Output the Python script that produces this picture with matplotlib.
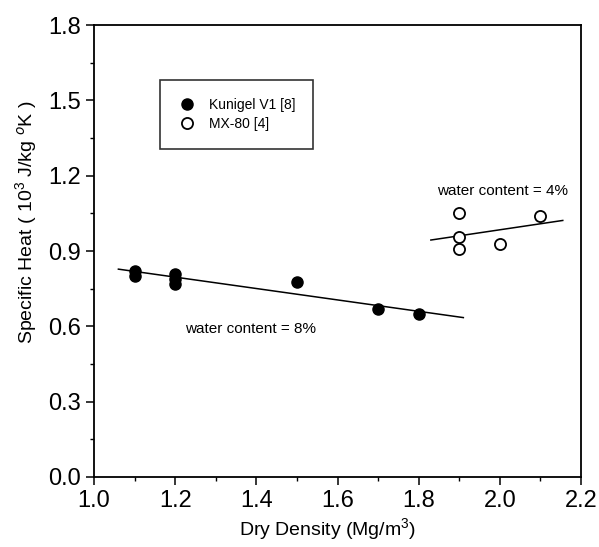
import numpy as np
import matplotlib
matplotlib.use("Agg")
import matplotlib.pyplot as plt
from matplotlib.ticker import MultipleLocator

plt.rcParams['font.family'] = ['Liberation Sans', 'DejaVu Sans']
plt.rcParams['mathtext.fontset'] = 'custom'
plt.rcParams['mathtext.rm'] = 'Liberation Sans'

# Kunigel V1 [8]
kun_x = [1.1, 1.1, 1.2, 1.2, 1.2, 1.5, 1.7, 1.8]
kun_y = [0.82, 0.80, 0.81, 0.79, 0.77, 0.775, 0.67, 0.65]
# MX-80 [4]
mx_x = [1.9, 1.9, 1.9, 2.0, 2.1]
mx_y = [1.05, 0.955, 0.91, 0.93, 1.04]

# fitted lines (end points)
kun_fit_x = [1.06, 1.91]
kun_fit_y = [0.828, 0.635]
mx_fit_x = [1.83, 2.155]
mx_fit_y = [0.944, 1.022]

fig = plt.figure(figsize=(5.99, 5.47), dpi=100)
ax = fig.add_axes([0.157, 0.128, 0.813, 0.826])

ax.plot(kun_fit_x, kun_fit_y, color='black', linewidth=1.1)
ax.plot(mx_fit_x, mx_fit_y, color='black', linewidth=1.1)
ax.plot(kun_x, kun_y, 'o', color='black', markersize=8, label='Kunigel V1 [8]')
ax.plot(mx_x, mx_y, 'o', markerfacecolor='white', markeredgecolor='black',
        markeredgewidth=1.3, markersize=8, label='MX-80 [4]')

ax.text(1.225, 0.59, 'water content = 8%', fontsize=11, va='center')
ax.text(1.845, 1.14, 'water content = 4%', fontsize=11, va='center')

ax.set_xlim(1.0, 2.2)
ax.set_ylim(0.0, 1.8)
ax.xaxis.set_major_locator(MultipleLocator(0.2))
ax.xaxis.set_minor_locator(MultipleLocator(0.1))
ax.yaxis.set_major_locator(MultipleLocator(0.3))
ax.yaxis.set_minor_locator(MultipleLocator(0.15))
ax.xaxis.set_major_formatter(matplotlib.ticker.FormatStrFormatter('%.1f'))
ax.yaxis.set_major_formatter(matplotlib.ticker.FormatStrFormatter('%.1f'))
ax.tick_params(which='major', direction='out', length=6, width=1.1, labelsize=17)
ax.tick_params(which='minor', direction='out', length=3, width=1.0)
ax.tick_params(top=False, right=False, which='both')
for s in ax.spines.values():
    s.set_linewidth(1.3)

ax.set_xlabel('Dry Density (Mg/m$^3$)', fontsize=14)
ax.set_ylabel('Specific Heat ( 10$^3$ J/kg $^o$K )', fontsize=14)
ax.xaxis.set_label_coords(0.48, -0.087)
ax.yaxis.set_label_coords(-0.112, 0.564)

leg = ax.legend(loc='upper left', bbox_to_anchor=(0.1355, 0.878), fontsize=10,
                frameon=True, fancybox=False, edgecolor='black', borderpad=1.3,
                handletextpad=0.9, labelspacing=0.3, handlelength=1.3,
                borderaxespad=0)
leg.get_frame().set_linewidth(1.2)

fig.savefig('out.png', dpi=100)
